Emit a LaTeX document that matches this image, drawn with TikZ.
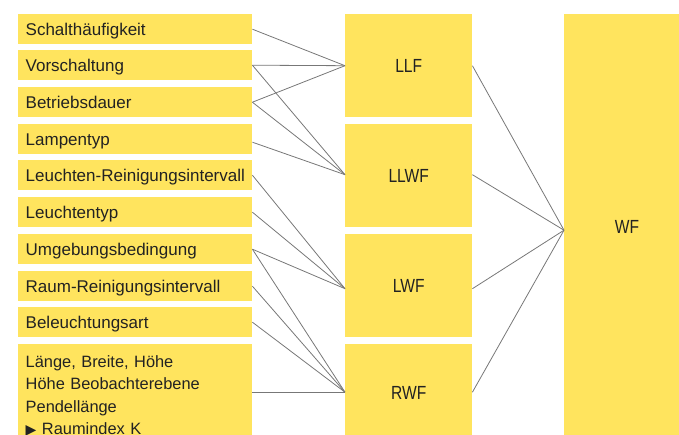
\documentclass[tikz,border=0pt]{standalone}
\usepackage{fontspec}
\setmainfont{Liberation Sans}
\newfontfamily\condfont[FakeStretch=0.82]{Liberation Sans}
\newfontfamily\symfont{DejaVu Sans}
\definecolor{boxyellow}{HTML}{FFE45E}
\definecolor{textgray}{HTML}{222222}
\definecolor{linegray}{HTML}{777777}
\begin{document}
\begin{tikzpicture}[x=1pt,y=-1pt,
  ybox/.style={fill=boxyellow, draw=none, inner sep=0pt, anchor=north west, text=textgray},
  lbase/.style={ybox, text width=219pt, inner xsep=7.5pt, align=left,
    font=\fontsize{17}{22.5}\selectfont},
  lbox/.style={lbase, minimum height=30pt, text height=12.2pt, text depth=0pt},
  mbox/.style={ybox, minimum width=127pt, minimum height=103pt, align=center,
    font=\condfont\fontsize{19}{22}\selectfont, text height=13.6pt, text depth=0pt},
  conn/.style={draw=linegray, line width=0.8pt}]
\useasboundingbox (0,0) rectangle (679,434);
% left column
\node[lbox] (sh) at (18,14) {Schalthäufigkeit};
\node[lbox] (vo) at (18,50) {Vorschaltung};
\node[lbox] (be) at (18,87) {Betriebsdauer};
\node[lbox] (la) at (18,124) {Lampentyp};
\node[lbox] (lr) at (18,160) {\mbox{Leuchten-Reinigungsintervall}};
\node[lbox] (lt) at (18,197) {Leuchtentyp};
\node[lbox] (ub) at (18,234) {Umgebungsbedingung};
\node[lbox] (rr) at (18,271) {Raum-Reinigungsintervall};
\node[lbox] (ba) at (18,307) {Beleuchtungsart};
\node[lbase, minimum height=96pt, font=\fontsize{16.4}{22.4}\selectfont] (rm) at (18,344) {\rule{0pt}{19pt}Länge, Breite, Höhe\\Höhe Beobachterebene\\Pendellänge\\{\symfont\fontsize{14}{22.4}\selectfont ▶} Raumindex K};
% middle column
\node[mbox] (LLF) at (345,14) {LLF};
\node[mbox] (LLWF) at (345,124) {LLWF};
\node[mbox] (LWF) at (345,234) {LWF};
\node[mbox, minimum height=96pt] (RWF) at (345,344) {RWF};
% right
\node[ybox, minimum width=125pt, minimum height=426pt] (WF) at (564,14) {};
\node[text=textgray, inner sep=0pt, font=\condfont\fontsize{19}{22}\selectfont, text height=13.6pt, text depth=0pt] (wft) at (627,227) {WF};
% connectors to LLF
\draw[conn] (sh.east) -- (LLF.west);
\draw[conn] (vo.east) -- (LLF.west);
\draw[conn] (be.east) -- (LLF.west);
% to LLWF
\draw[conn] (vo.east) -- ([yshift=1pt]LLWF.west);
\draw[conn] (be.east) -- ([yshift=1pt]LLWF.west);
\draw[conn] ([yshift=-3pt]la.east) -- ([yshift=1pt]LLWF.west);
% to LWF
\draw[conn] (lr.east) -- ([yshift=-3pt]LWF.west);
\draw[conn] (lt.east) -- ([yshift=-3pt]LWF.west);
\draw[conn] (ub.east) -- ([yshift=-3pt]LWF.west);
% to RWF
\draw[conn] (ub.east) -- (RWF.west);
\draw[conn] (rr.east) -- (RWF.west);
\draw[conn] (ba.east) -- (RWF.west);
\draw[conn] (rm.east) -- (RWF.west);
% to WF
\draw[conn] (LLF.east) -- ([yshift=-3pt]WF.west);
\draw[conn] ([yshift=1pt]LLWF.east) -- ([yshift=-3pt]WF.west);
\draw[conn] ([yshift=-3pt]LWF.east) -- ([yshift=-3pt]WF.west);
\draw[conn] (RWF.east) -- ([yshift=-3pt]WF.west);
\end{tikzpicture}
\end{document}
